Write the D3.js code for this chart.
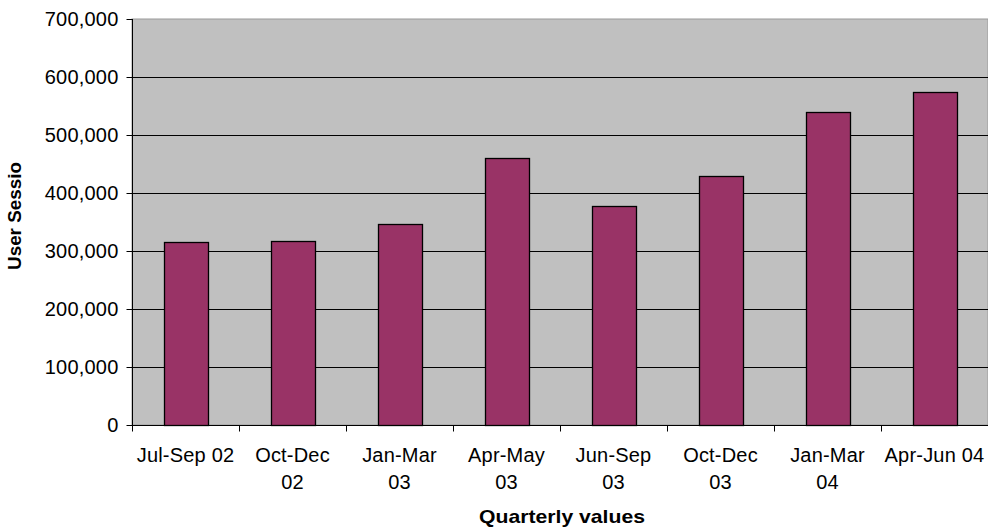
<!DOCTYPE html>
<html><head><meta charset="utf-8">
<script src="https://cdn.jsdelivr.net/npm/d3@7"></script>
<style>
html,body{margin:0;padding:0;background:#fff;}
svg{display:block;font-family:Arial,"Liberation Sans",sans-serif;}
</style></head>
<body>
<svg id="c" width="988" height="529"></svg>
<script>
const categories = ["Jul-Sep 02","Oct-Dec 02","Jan-Mar 03","Apr-May 03","Jun-Sep 03","Oct-Dec 03","Jan-Mar 04","Apr-Jun 04"];
const categoryLines = [["Jul-Sep 02"],["Oct-Dec","02"],["Jan-Mar","03"],["Apr-May","03"],["Jun-Sep","03"],["Oct-Dec","03"],["Jan-Mar","04"],["Apr-Jun 04"]];
const sessions = [316000, 318000, 346000, 460000, 378000, 430000, 539000, 574000];
const yTicks = [0,100000,200000,300000,400000,500000,600000,700000];
const yTitle = "User Sessio";
const xTitle = "Quarterly values";

const svg = d3.select("#c");
const L = 132, R = 988, T = 19, B = 425;

const x = d3.scaleBand().domain(categories).range([L, R]).paddingInner(0).paddingOuter(0);
const y = d3.scaleLinear().domain([0, 700000]).range([B, T]);

// plot area
svg.append("rect").attr("x", L).attr("y", T).attr("width", R - L).attr("height", B - T)
  .attr("fill", "#c0c0c0").attr("stroke", "#9a9a9a").attr("stroke-width", 1);

// gridlines
svg.append("g").selectAll("line").data(yTicks.filter(d => d > 0 && d < 700000)).join("line")
  .attr("x1", L).attr("x2", R).attr("y1", d => Math.round(y(d)) + 0.5).attr("y2", d => Math.round(y(d)) + 0.5)
  .attr("stroke", "#000").attr("stroke-width", 1);

// bars
const step = x.step();
svg.append("g").selectAll("rect").data(sessions).join("rect")
  .attr("x", (d, i) => Math.round(x(categories[i]) + step * 0.295) + 0.5)
  .attr("width", Math.round(step * 0.41))
  .attr("y", d => Math.round(y(d)) + 0.5)
  .attr("height", d => B - Math.round(y(d)))
  .attr("fill", "#993366").attr("stroke", "#000").attr("stroke-width", 1.3);

// y axis
const yAxis = d3.axisLeft(y).tickValues(yTicks).tickSize(6).tickPadding(8)
  .tickFormat(d3.format(","));
const gy = svg.append("g").attr("transform", `translate(${L + 0.5},0)`).call(yAxis);
gy.select(".domain").attr("stroke", "#000").attr("d", `M0,${T}V${B}`);
gy.selectAll(".tick line").attr("stroke", "#000");
gy.selectAll(".tick text").attr("font-size", 20).attr("fill", "#000")
  .attr("font-family", "Arial, 'Liberation Sans', sans-serif").attr("letter-spacing", "0.2px");

// x axis
const gx = svg.append("g").attr("transform", `translate(0,${B + 0.5})`);
gx.append("line").attr("x1", L).attr("x2", R).attr("stroke", "#000");
const bounds = categories.map(c => x(c)).concat([R]);
gx.selectAll("line.tk").data(bounds.slice(0, 8)).join("line").attr("class", "tk")
  .attr("x1", d => Math.round(d) + 0.5).attr("x2", d => Math.round(d) + 0.5).attr("y1", 0).attr("y2", 6).attr("stroke", "#000");
const lbl = gx.selectAll("text.lb").data(categoryLines).join("text").attr("class", "lb")
  .attr("font-size", 20).attr("fill", "#000").attr("text-anchor", "middle")
  .attr("letter-spacing", "0.2px");
lbl.each(function(lines, i) {
  const cx = x(categories[i]) + step / 2;
  d3.select(this).selectAll("tspan").data(lines).join("tspan")
    .attr("x", cx).attr("y", (d, j) => 36.5 + j * 26.5).text(d => d);
});

// titles
svg.append("text").attr("x", 562).attr("y", 523).attr("text-anchor", "middle")
  .attr("font-size", 18.5).attr("font-weight", "bold").attr("fill", "#000")
  .attr("textLength", 166).attr("lengthAdjust", "spacingAndGlyphs").text(xTitle);
svg.append("text").attr("transform", "translate(21,216) rotate(-90)").attr("text-anchor", "middle")
  .attr("font-size", 17.5).attr("font-weight", "bold").attr("fill", "#000")
  .attr("textLength", 108).attr("lengthAdjust", "spacingAndGlyphs").text(yTitle);
</script>
</body></html>
